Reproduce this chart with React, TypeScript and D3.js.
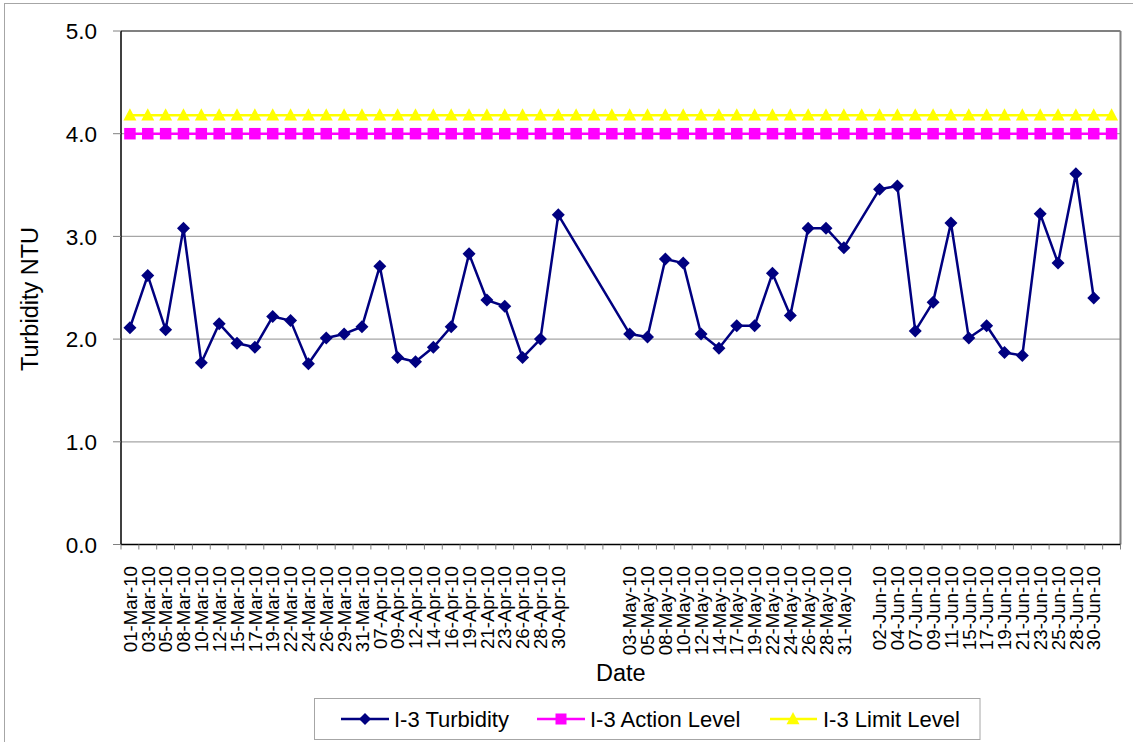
import React from "react";
import * as d3 from "d3";

const dates: string[] = [
  "01-Mar-10","03-Mar-10","05-Mar-10","08-Mar-10","10-Mar-10","12-Mar-10","15-Mar-10","17-Mar-10",
  "19-Mar-10","22-Mar-10","24-Mar-10","26-Mar-10","29-Mar-10","31-Mar-10",
  "07-Apr-10","09-Apr-10","12-Apr-10","14-Apr-10","16-Apr-10","19-Apr-10","21-Apr-10","23-Apr-10",
  "26-Apr-10","28-Apr-10","30-Apr-10",
  "","","",
  "03-May-10","05-May-10","08-May-10","10-May-10","12-May-10","14-May-10","17-May-10","19-May-10",
  "22-May-10","24-May-10","26-May-10","28-May-10","31-May-10",
  "",
  "02-Jun-10","04-Jun-10","07-Jun-10","09-Jun-10","11-Jun-10","15-Jun-10","17-Jun-10","19-Jun-10",
  "21-Jun-10","23-Jun-10","25-Jun-10","28-Jun-10","30-Jun-10",
  "",
];

const turbidity: (number | null)[] = [
  2.11, 2.62, 2.09, 3.08, 1.77, 2.15, 1.96, 1.92, 2.22, 2.18, 1.76, 2.01, 2.05, 2.12,
  2.71, 1.82, 1.78, 1.92, 2.12, 2.83, 2.38, 2.32, 1.82, 2.0, 3.21,
  null, null, null,
  2.05, 2.02, 2.78, 2.74, 2.05, 1.91, 2.13, 2.13, 2.64, 2.23, 3.08, 3.08, 2.89,
  null,
  3.46, 3.49, 2.08, 2.36, 3.13, 2.01, 2.13, 1.87, 1.84, 3.22, 2.74, 3.61, 2.4,
  null,
];

const actionLevel: number[] = dates.map(() => 4.0);
const limitLevel: number[] = dates.map(() => 4.18);

const yTicks: number[] = [0, 1, 2, 3, 4, 5];

const seriesNames = ["I-3 Turbidity", "I-3 Action Level", "I-3 Limit Level"];

const FONT = "'Liberation Sans', Arial, Helvetica, sans-serif";

const W = 1133;
const H = 742;
const plot = { left: 121, right: 1120.5, top: 31, bottom: 544.5 };

const NAVY = "#000080";
const MAGENTA = "#FF00FF";
const YELLOW = "#FFFF00";

function Diamond({ x, y, r = 6.5 }: { x: number; y: number; r?: number }) {
  return <path d={`M${x},${y - r}L${x + r},${y}L${x},${y + r}L${x - r},${y}Z`} fill={NAVY} />;
}
function Square({ x, y, s = 11.5 }: { x: number; y: number; s?: number }) {
  return <rect x={x - s / 2} y={y - s / 2} width={s} height={s} fill={MAGENTA} />;
}
function Triangle({ x, y, s = 13 }: { x: number; y: number; s?: number }) {
  const h = s * 0.9;
  return (
    <path
      d={`M${x},${y - h * 0.6}L${x + s / 2},${y + h * 0.45}L${x - s / 2},${y + h * 0.45}Z`}
      fill={YELLOW}
    />
  );
}

export default function App() {
  const idx = dates.map((_, i) => String(i));
  const x = d3.scaleBand<string>().domain(idx).range([plot.left, plot.right]).padding(0);
  const y = d3.scaleLinear().domain([0, 5]).range([plot.bottom, plot.top]);
  const cx = (i: number) => (x(String(i)) as number) + x.bandwidth() / 2;

  const turbPts = turbidity
    .map((v, i) => ({ v, i }))
    .filter((d) => d.v !== null) as { v: number; i: number }[];

  const line = d3
    .line<{ v: number; i: number }>()
    .x((d) => cx(d.i))
    .y((d) => y(d.v));

  const actPts = actionLevel.map((v, i) => ({ v, i }));
  const limPts = limitLevel.map((v, i) => ({ v, i }));

  const tickBoundaries = d3.range(dates.length + 1).map((i) => plot.left + i * x.bandwidth());

  return (
    <svg
      width={W}
      height={H}
      style={{ position: "absolute", left: 0, top: 0, background: "#fff" }}
      fontFamily={FONT}
    >
      <rect x={0} y={0} width={W} height={H} fill="#fff" />
      {/* outer chart border */}
      <line x1={4} y1={3.5} x2={W} y2={3.5} stroke="#a6a6a6" strokeWidth={1} />
      <line x1={4.5} y1={3} x2={4.5} y2={H} stroke="#a6a6a6" strokeWidth={1} />

      {/* gridlines */}
      {yTicks
        .filter((t) => t > 0 && t < 5)
        .map((t) => (
          <line
            key={`g${t}`}
            x1={plot.left}
            x2={plot.right}
            y1={y(t)}
            y2={y(t)}
            stroke="#a6a6a6"
            strokeWidth={1.2}
          />
        ))}

      {/* plot border (top/right gray) */}
      <line x1={plot.left} x2={plot.right} y1={plot.top} y2={plot.top} stroke="#808080" strokeWidth={2} />
      <line x1={plot.right} x2={plot.right} y1={plot.top} y2={plot.bottom} stroke="#808080" strokeWidth={2} />

      {/* y axis */}
      <line x1={plot.left} x2={plot.left} y1={plot.top} y2={plot.bottom} stroke="#000" strokeWidth={1.5} />
      {yTicks.map((t) => (
        <g key={`yt${t}`}>
          <line x1={plot.left - 8} x2={plot.left} y1={y(t)} y2={y(t)} stroke="#808080" strokeWidth={1} />
          <text x={97} y={y(t)} dy="0.36em" textAnchor="end" fontSize={22.5} fill="#000">
            {d3.format(".1f")(t)}
          </text>
        </g>
      ))}

      {/* x axis */}
      <line x1={plot.left} x2={plot.right} y1={plot.bottom} y2={plot.bottom} stroke="#000" strokeWidth={1.5} />
      {tickBoundaries.map((tx, i) => (
        <line key={`xt${i}`} x1={tx} x2={tx} y1={plot.bottom} y2={plot.bottom + 5} stroke="#808080" strokeWidth={1} />
      ))}
      {dates.map((d, i) =>
        d ? (
          <text
            key={`xl${i}`}
            transform={`translate(${cx(i)},566) rotate(-90)`}
            textAnchor="end"
            dy="0.36em"
            fontSize={18.7}
            fill="#000"
          >
            {d}
          </text>
        ) : null
      )}

      {/* axis titles */}
      <text x={(plot.left + plot.right) / 2} y={681} textAnchor="middle" fontSize={23.5} fill="#000">
        Date
      </text>
      <text transform="translate(30,299) rotate(-90)" textAnchor="middle" dy="0.36em" fontSize={23.5} fill="#000">
        Turbidity NTU
      </text>

      {/* limit level */}
      <path d={line(limPts) || ""} fill="none" stroke={YELLOW} strokeWidth={2.5} />
      {limPts.map((p) => (
        <Triangle key={`l${p.i}`} x={cx(p.i)} y={y(p.v)} />
      ))}

      {/* action level */}
      <path d={line(actPts) || ""} fill="none" stroke={MAGENTA} strokeWidth={2.5} />
      {actPts.map((p) => (
        <Square key={`a${p.i}`} x={cx(p.i)} y={y(p.v)} />
      ))}

      {/* turbidity */}
      <path d={line(turbPts) || ""} fill="none" stroke={NAVY} strokeWidth={2.5} strokeLinejoin="round" />
      {turbPts.map((p) => (
        <Diamond key={`t${p.i}`} x={cx(p.i)} y={y(p.v)} />
      ))}

      {/* legend */}
      <rect x={314.5} y={698.5} width={665.5} height={41} fill="#fff" stroke="#a6a6a6" strokeWidth={1} />
      <g>
        <line x1={341} x2={389} y1={719} y2={719} stroke={NAVY} strokeWidth={2.5} />
        <Diamond x={365} y={719} r={6} />
        <text x={394} y={719} dy="0.36em" fontSize={22} fill="#000">
          {seriesNames[0]}
        </text>
      </g>
      <g>
        <line x1={537} x2={585} y1={719} y2={719} stroke={MAGENTA} strokeWidth={2.5} />
        <Square x={561} y={719} s={11} />
        <text x={590} y={719} dy="0.36em" fontSize={22} fill="#000">
          {seriesNames[1]}
        </text>
      </g>
      <g>
        <line x1={770} x2={817} y1={719} y2={719} stroke={YELLOW} strokeWidth={2.5} />
        <Triangle x={793} y={719} />
        <text x={823} y={719} dy="0.36em" fontSize={22} fill="#000">
          {seriesNames[2]}
        </text>
      </g>
    </svg>
  );
}
